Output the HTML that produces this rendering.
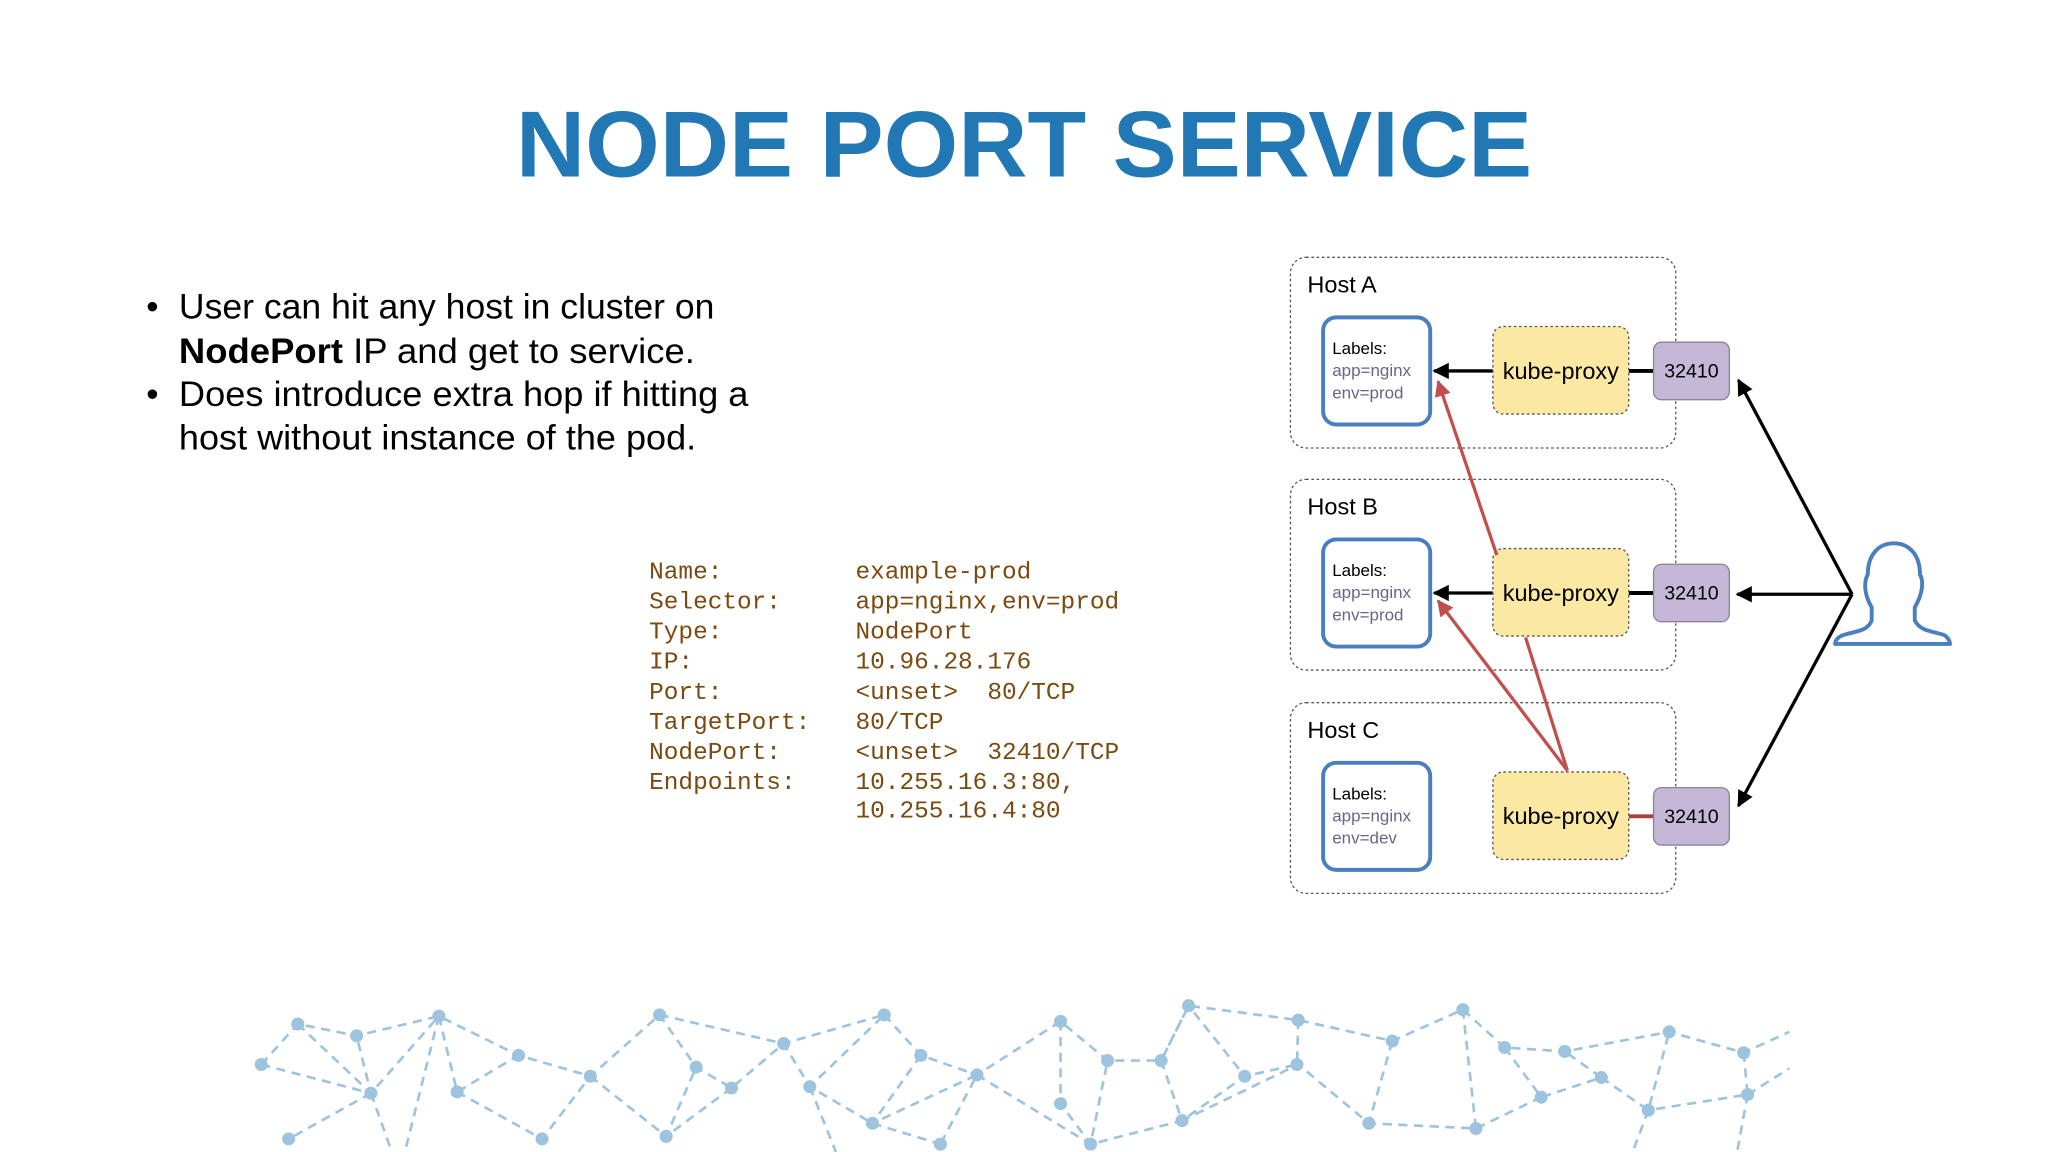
<!DOCTYPE html>
<html><head><meta charset="utf-8"><style>
html,body{margin:0;padding:0;background:#fff;}
svg{display:block;}
</style></head><body>
<svg width="2048" height="1152" viewBox="0 0 1568 882" xmlns="http://www.w3.org/2000/svg" font-family="Liberation Sans, sans-serif">
<defs>
<marker id="ab" viewBox="0 0 10 10" refX="9" refY="5" markerWidth="5" markerHeight="5" orient="auto"><path d="M0,0L10,5L0,10z" fill="#000"/></marker>
<marker id="ar" viewBox="0 0 10 10" refX="9" refY="5" markerWidth="5" markerHeight="5" orient="auto"><path d="M0,0L10,5L0,10z" fill="#c0504d"/></marker>
</defs>
<rect width="1568" height="882" fill="#fff"/>
<text x="395" y="135" font-size="72" font-weight="bold" fill="#2178b5" textLength="778" lengthAdjust="spacingAndGlyphs">NODE PORT SERVICE</text>

<g font-size="27" fill="#000">
<text x="112" y="244">•</text>
<text x="137" y="244" textLength="410" lengthAdjust="spacingAndGlyphs">User can hit any host in cluster on</text>
<text x="137" y="278" textLength="395" lengthAdjust="spacingAndGlyphs"><tspan font-weight="bold">NodePort</tspan> IP and get to service.</text>
<text x="112" y="311">•</text>
<text x="137" y="311" textLength="436" lengthAdjust="spacingAndGlyphs">Does introduce extra hop if hitting a</text>
<text x="137" y="344" textLength="396" lengthAdjust="spacingAndGlyphs">host without instance of the pod.</text>
</g>

<g font-family="Liberation Mono, monospace" font-size="18.7" fill="#7a4a10">
<text x="497" y="443">Name:</text><text x="655" y="443">example-prod</text>
<text x="497" y="466">Selector:</text><text x="655" y="466">app=nginx,env=prod</text>
<text x="497" y="489">Type:</text><text x="655" y="489">NodePort</text>
<text x="497" y="512">IP:</text><text x="655" y="512">10.96.28.176</text>
<text x="497" y="535">Port:</text><text x="655" y="535">&lt;unset&gt;&#160;&#160;80/TCP</text>
<text x="497" y="558">TargetPort:</text><text x="655" y="558">80/TCP</text>
<text x="497" y="581">NodePort:</text><text x="655" y="581">&lt;unset&gt;&#160;&#160;32410/TCP</text>
<text x="497" y="604">Endpoints:</text><text x="655" y="604">10.255.16.3:80,</text>
<text x="655" y="626">10.255.16.4:80</text>
</g>

<g id="hosts">
<g>
<rect x="988" y="197" width="295" height="146" rx="12" fill="#fff" stroke="#555" stroke-width="1" stroke-dasharray="2,2"/>
<text x="1001" y="224" font-size="18">Host A</text>
<rect x="1013" y="243" width="82" height="82" rx="10" fill="#fff" stroke="#4a7fbf" stroke-width="3"/>
<text x="1020" y="271" font-size="13">Labels:</text>
<text x="1020" y="288" font-size="13" fill="#6b6488">app=nginx</text>
<text x="1020" y="305" font-size="13" fill="#6b6488">env=prod</text>
<line x1="1143" y1="284" x2="1098" y2="284" stroke="#000" stroke-width="2.5" marker-end="url(#ab)"/>
<line x1="1247" y1="284" x2="1266" y2="284" stroke="#000" stroke-width="3"/>
<rect x="1143" y="250" width="104" height="67" rx="8" fill="#fbe9a3" stroke="#555" stroke-dasharray="2,2"/>
<text x="1195" y="290" font-size="18" text-anchor="middle">kube-proxy</text>
<rect x="1266" y="262" width="58" height="44" rx="6" fill="#c4b8d6" stroke="#8a80a0"/>
<text x="1295" y="289" font-size="15" text-anchor="middle">32410</text>
</g>
<g transform="translate(0,170)">
<rect x="988" y="197" width="295" height="146" rx="12" fill="#fff" stroke="#555" stroke-width="1" stroke-dasharray="2,2"/>
<text x="1001" y="224" font-size="18">Host B</text>
<rect x="1013" y="243" width="82" height="82" rx="10" fill="#fff" stroke="#4a7fbf" stroke-width="3"/>
<text x="1020" y="271" font-size="13">Labels:</text>
<text x="1020" y="288" font-size="13" fill="#6b6488">app=nginx</text>
<text x="1020" y="305" font-size="13" fill="#6b6488">env=prod</text>
<line x1="1143" y1="284" x2="1098" y2="284" stroke="#000" stroke-width="2.5" marker-end="url(#ab)"/>
<line x1="1247" y1="284" x2="1266" y2="284" stroke="#000" stroke-width="3"/>
<rect x="1143" y="250" width="104" height="67" rx="8" fill="#fbe9a3" stroke="#555" stroke-dasharray="2,2"/>
<text x="1195" y="290" font-size="18" text-anchor="middle">kube-proxy</text>
<rect x="1266" y="262" width="58" height="44" rx="6" fill="#c4b8d6" stroke="#8a80a0"/>
<text x="1295" y="289" font-size="15" text-anchor="middle">32410</text>
</g>
<g transform="translate(0,341)">
<rect x="988" y="197" width="295" height="146" rx="12" fill="#fff" stroke="#555" stroke-width="1" stroke-dasharray="2,2"/>
<text x="1001" y="224" font-size="18">Host C</text>
<rect x="1013" y="243" width="82" height="82" rx="10" fill="#fff" stroke="#4a7fbf" stroke-width="3"/>
<text x="1020" y="271" font-size="13">Labels:</text>
<text x="1020" y="288" font-size="13" fill="#6b6488">app=nginx</text>
<text x="1020" y="305" font-size="13" fill="#6b6488">env=dev</text>
<line x1="1247" y1="284" x2="1266" y2="284" stroke="#a8403d" stroke-width="3"/>
<rect x="1143" y="250" width="104" height="67" rx="8" fill="#fbe9a3" stroke="#555" stroke-dasharray="2,2"/>
<text x="1195" y="290" font-size="18" text-anchor="middle">kube-proxy</text>
<rect x="1266" y="262" width="58" height="44" rx="6" fill="#c4b8d6" stroke="#8a80a0"/>
<text x="1295" y="289" font-size="15" text-anchor="middle">32410</text>
</g>
</g>

<g stroke="#c0504d" stroke-width="2.5" fill="none">
<line x1="1146" y1="425" x2="1101" y2="292" marker-end="url(#ar)"/>
<line x1="1200" y1="590" x2="1101" y2="460" marker-end="url(#ar)"/>
<line x1="1200" y1="590" x2="1168" y2="488"/>
</g>
<g stroke="#000" stroke-width="2.5" fill="none">
<line x1="1418" y1="455" x2="1331" y2="291" marker-end="url(#ab)"/>
<line x1="1418" y1="455" x2="1330" y2="455" marker-end="url(#ab)"/>
<line x1="1418" y1="455" x2="1331" y2="617" marker-end="url(#ab)"/>
</g>
<path d="M1433,465 C1427,455 1427,445 1430,440 C1430,425 1438,416 1450,416 C1462,416 1470,425 1470,440 C1473,445 1472,455 1466,465 L1466,475 C1470,483 1478,483 1488,486 C1492,488 1493,492 1493,493 L1405,493 C1405,490 1408,487 1412,486 C1422,483 1430,483 1433,475 Z" fill="#fff" stroke="#4a7fbf" stroke-width="3" stroke-linejoin="round"/>

<g stroke="#9dc3de" stroke-width="2" stroke-dasharray="7,5" fill="none">
<path d="M200,815L228,784L273,793L336,778L397,808L452,824L505,777L533,817L560,833L600,799L620,832L668,860"/>
<path d="M228,784L284,837L336,778L350,836L397,808"/>
<path d="M200,815L284,837L273,793M284,837L221,872M284,837L300,882M350,836L415,872L452,824M336,778L310,882"/>
<path d="M452,824L510,870L533,817M505,777L600,799L677,777L620,832M668,860L720,876"/>
<path d="M677,777L705,808L748,823L812,782L848,812L889,812L910,770L994,781L1066,797L1120,773L1152,802L1198,805L1278,790L1335,806L1370,790"/>
<path d="M705,808L668,860L748,823L720,876M748,823L835,876L848,812M812,782L812,845L835,876L905,858L953,824L910,770"/>
<path d="M889,812L905,858L994,815L1048,860L1066,797M1120,773L1130,864L1048,860M994,781L993,815L953,824"/>
<path d="M1152,802L1180,840L1226,825L1198,805M1226,825L1262,850L1278,790M1335,806L1338,838L1262,850M1180,840L1130,864M1338,838L1370,818M1338,838L1330,882M1262,850L1250,882"/>
<path d="M560,833L510,870M620,832L640,882M910,770L889,812"/>
</g>
<g fill="#9dc3de">
<circle cx="228" cy="784" r="5"/><circle cx="273" cy="793" r="5"/><circle cx="336" cy="778" r="5"/><circle cx="200" cy="815" r="5"/><circle cx="284" cy="837" r="5"/><circle cx="350" cy="836" r="5"/><circle cx="397" cy="808" r="5"/><circle cx="452" cy="824" r="5"/><circle cx="505" cy="777" r="5"/><circle cx="533" cy="817" r="5"/><circle cx="560" cy="833" r="5"/><circle cx="600" cy="799" r="5"/><circle cx="620" cy="832" r="5"/><circle cx="668" cy="860" r="5"/><circle cx="677" cy="777" r="5"/><circle cx="705" cy="808" r="5"/><circle cx="748" cy="823" r="5"/><circle cx="812" cy="782" r="5"/><circle cx="848" cy="812" r="5"/><circle cx="889" cy="812" r="5"/><circle cx="910" cy="770" r="5"/><circle cx="905" cy="858" r="5"/><circle cx="953" cy="824" r="5"/><circle cx="994" cy="781" r="5"/><circle cx="993" cy="815" r="5"/><circle cx="1048" cy="860" r="5"/><circle cx="1066" cy="797" r="5"/><circle cx="1120" cy="773" r="5"/><circle cx="1152" cy="802" r="5"/><circle cx="1198" cy="805" r="5"/><circle cx="1226" cy="825" r="5"/><circle cx="1180" cy="840" r="5"/><circle cx="1278" cy="790" r="5"/><circle cx="1262" cy="850" r="5"/><circle cx="1335" cy="806" r="5"/><circle cx="1338" cy="838" r="5"/><circle cx="1130" cy="864" r="5"/><circle cx="221" cy="872" r="5"/><circle cx="415" cy="872" r="5"/><circle cx="510" cy="870" r="5"/><circle cx="720" cy="876" r="5"/><circle cx="835" cy="876" r="5"/><circle cx="812" cy="845" r="5"/>
</g>
</svg>
</body></html>
